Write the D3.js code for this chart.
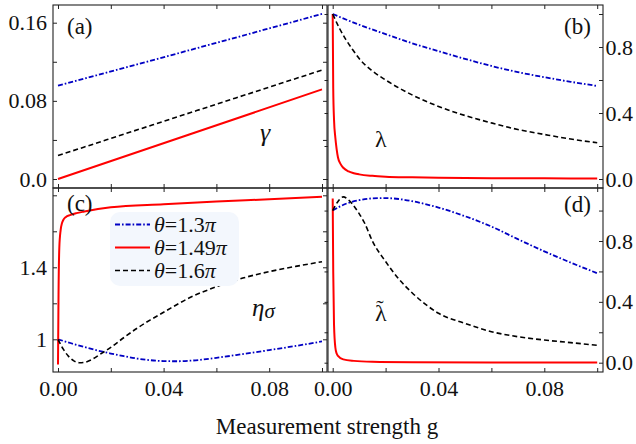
<!DOCTYPE html>
<html><head><meta charset="utf-8">
<script src="https://cdn.jsdelivr.net/npm/d3@7"></script>
<style>
body{margin:0;background:#fff;}
svg text{font-family:"Liberation Serif","DejaVu Serif",serif;}
</style></head>
<body><svg id="chart" width="636" height="444"></svg>
<script>
// ---------- data ----------
const seriesNames = ["θ=1.3π", "θ=1.49π", "θ=1.6π"];
// (a) gamma
const gGammaBlue = [0, 0.05, 0.1];
const gammaBlue = [0.0955, 0.132, 0.169];
const gGammaBlack = [0, 0.05, 0.1];
const gammaBlack = [0.024, 0.0678, 0.1115];
const gGammaRed = [0, 0.05, 0.1];
const gammaRed = [0.0, 0.0458, 0.0917];
// (b) lambda
const gLamBlue = [0, 0.01, 0.02, 0.03, 0.04, 0.05, 0.06, 0.07, 0.08, 0.09, 0.1];
const lamBlue = [1.0, 0.935, 0.878, 0.823, 0.775, 0.728, 0.685, 0.648, 0.617, 0.589, 0.564];
const gLamBlack = [0, 0.0025, 0.005, 0.0075, 0.01, 0.015, 0.02, 0.03, 0.04, 0.05, 0.06, 0.07, 0.08, 0.09, 0.1];
const lamBlack = [1.0, 0.915, 0.845, 0.785, 0.73, 0.655, 0.6, 0.51, 0.44, 0.385, 0.34, 0.3, 0.27, 0.242, 0.22];
const gLamRed = [0, 0.0002, 0.0005, 0.001, 0.0015, 0.002, 0.003, 0.004, 0.006, 0.008, 0.01, 0.015, 0.02, 0.03, 0.04, 0.06, 0.08, 0.1];
const lamRed = [1.0, 0.55, 0.36, 0.25, 0.18, 0.13, 0.09, 0.068, 0.046, 0.035, 0.028, 0.019, 0.014, 0.01, 0.007, 0.005, 0.004, 0.003];
// (c) eta_sigma
const gEtaBlue = [0, 0.005, 0.01, 0.015, 0.02, 0.025, 0.03, 0.035, 0.04, 0.045, 0.05, 0.06, 0.07, 0.08, 0.09, 0.1];
const etaBlue = [1.0, 0.978, 0.957, 0.938, 0.921, 0.906, 0.893, 0.884, 0.879, 0.878, 0.881, 0.897, 0.918, 0.94, 0.963, 0.988];
const gEtaBlack = [0, 0.002, 0.004, 0.006, 0.008, 0.01, 0.012, 0.016, 0.02, 0.025, 0.03, 0.035, 0.04, 0.05, 0.06, 0.07, 0.08, 0.09, 0.1];
const etaBlack = [1.0, 0.945, 0.905, 0.88, 0.87, 0.872, 0.882, 0.917, 0.955, 1.01, 1.062, 1.108, 1.15, 1.232, 1.292, 1.34, 1.376, 1.405, 1.431];
const gEtaRed = [0, 0.0002, 0.0005, 0.001, 0.0015, 0.002, 0.003, 0.0045, 0.007, 0.01, 0.02, 0.04, 0.06, 0.08, 0.1];
const etaRed = [0.86, 1.25, 1.51, 1.607, 1.645, 1.663, 1.68, 1.69, 1.701, 1.71, 1.733, 1.75, 1.765, 1.778, 1.792];
// (d) lambda tilde
const gLtBlue = [0, 0.005, 0.01, 0.015, 0.02, 0.025, 0.03, 0.035, 0.04, 0.05, 0.06, 0.07, 0.08, 0.09, 0.1];
const ltBlue = [1.0, 1.045, 1.068, 1.08, 1.082, 1.076, 1.062, 1.043, 1.02, 0.963, 0.895, 0.812, 0.732, 0.658, 0.588];
const gLtBlack = [0, 0.002, 0.004, 0.006, 0.008, 0.01, 0.012, 0.015, 0.02, 0.025, 0.03, 0.035, 0.04, 0.05, 0.06, 0.07, 0.08, 0.09, 0.1];
const ltBlack = [1.0, 1.06, 1.09, 1.07, 1.03, 0.98, 0.92, 0.8, 0.665, 0.55, 0.46, 0.385, 0.325, 0.259, 0.204, 0.171, 0.149, 0.132, 0.114];
const gLtRed = [0, 0.0002, 0.0005, 0.001, 0.0015, 0.002, 0.004, 0.008, 0.015, 0.03, 0.06, 0.1];
const ltRed = [1.08, 0.6, 0.25, 0.1, 0.06, 0.045, 0.022, 0.012, 0.006, 0.003, 0.0015, 0.001];

const xTicks = [0, 0.02, 0.04, 0.06, 0.08, 0.1];
const xTickLabels = {"0": "0.00", "0.04": "0.04", "0.08": "0.08"};
const yTicksA = [0, 0.04, 0.08, 0.12, 0.16];
const yLabelsA = {"0": "0.0", "0.08": "0.08", "0.16": "0.16"};
const yTicksB = [0, 0.2, 0.4, 0.6, 0.8, 1.0];
const yLabelsB = {"0": "0.0", "0.4": "0.4", "0.8": "0.8"};
const yTicksC = [1.0, 1.2, 1.4, 1.6, 1.8];
const yLabelsC = {"1": "1", "1.4": "1.4"};
const yTicksD = [0, 0.2, 0.4, 0.6, 0.8, 1.0];
const yLabelsD = {"0": "0.0", "0.4": "0.4", "0.8": "0.8"};

// ---------- styles ----------
const FONT = "Liberation Serif, DejaVu Serif, serif";
const BLUE = "#0000c4", RED = "#ff0000", BLACK = "#000";
const styles = [
  {color: BLUE, width: 1.8, dash: "5,2,1.6,2"},
  {color: RED, width: 2, dash: null},
  {color: BLACK, width: 1.6, dash: "5,3"}
];

const svg = d3.select("#chart").attr("font-family", FONT);
const FS = 22;

const xL = d3.scaleLinear().domain([0, 0.1]).range([58, 322]);
const xR = d3.scaleLinear().domain([0, 0.1]).range([332.7, 597.2]);

const panels = [
  {id:"a", x:xL, box:[53,5,327,188], y:d3.scaleLinear().domain([0,0.16]).range([179,22.7]),
   yt:yTicksA, yl:yLabelsA, side:"left", label:"(a)", lx:67, ly:34,
   data:[[gGammaBlue,gammaBlue],[gGammaRed,gammaRed],[gGammaBlack,gammaBlack]]},
  {id:"b", x:xR, box:[328,5,603,188], y:d3.scaleLinear().domain([0,0.8]).range([179,47]),
   yt:yTicksB, yl:yLabelsB, side:"right", label:"(b)", lx:564, ly:34,
   data:[[gLamBlue,lamBlue],[gLamRed,lamRed],[gLamBlack,lamBlack]]},
  {id:"c", x:xL, box:[53,188,327,372], y:d3.scaleLinear().domain([1,1.4]).range([339.3,267.3]),
   yt:yTicksC, yl:yLabelsC, side:"left", label:"(c)", lx:67, ly:211, xlab:true,
   data:[[gEtaBlue,etaBlue],[gEtaRed,etaRed],[gEtaBlack,etaBlack]]},
  {id:"d", x:xR, box:[328,188,603,372], y:d3.scaleLinear().domain([0,0.8]).range([362.7,241]),
   yt:yTicksD, yl:yLabelsD, side:"right", label:"(d)", lx:564, ly:212, xlab:true,
   data:[[gLtBlue,ltBlue],[gLtRed,ltRed],[gLtBlack,ltBlack]]}
];

const fmtFrom = (map) => (d) => { const k = String(+d.toFixed(4)); return map[k] !== undefined ? map[k] : ""; };

function styleAxis(g){
  g.attr("font-family", FONT);
  g.select(".domain").remove();
  g.selectAll(".tick line").attr("stroke","#222").attr("stroke-width",1);
  g.selectAll(".tick text").attr("font-size",FS).attr("fill","#111").attr("font-family", FONT);
}

const defs = svg.append("defs");
panels.forEach(p => {
  const [x0,y0,x1,y1] = p.box;
  defs.append("clipPath").attr("id","clip-"+p.id)
    .append("rect").attr("x",x0).attr("y",y0).attr("width",x1-x0).attr("height",y1-y0);

  const gLines = svg.append("g").attr("clip-path","url(#clip-"+p.id+")");
  p.data.forEach((ser, i) => {
    const pts = ser[0].map((g, k) => [g, ser[1][k]]);
    const line = d3.line().x(d => p.x(d[0])).y(d => p.y(d[1])).curve(d3.curveMonotoneX);
    const st = styles[i];
    gLines.append("path").datum(pts).attr("d", line)
      .attr("fill","none").attr("stroke",st.color).attr("stroke-width",st.width)
      .attr("stroke-dasharray",st.dash);
  });

  svg.append("rect").attr("x",x0).attr("y",y0).attr("width",x1-x0).attr("height",y1-y0)
    .attr("fill","none").attr("stroke","#222").attr("stroke-width",1.1);

  svg.append("g").attr("transform",`translate(0,${y1})`)
    .call(d3.axisBottom(p.x).tickValues(xTicks).tickSize(-4).tickPadding(8.5)
      .tickFormat(p.xlab ? fmtFrom(xTickLabels) : () => ""))
    .call(styleAxis);
  svg.append("g").attr("transform",`translate(0,${y0})`)
    .call(d3.axisTop(p.x).tickValues(xTicks).tickSize(-4).tickFormat(() => ""))
    .call(styleAxis);

  if (p.side === "left") {
    svg.append("g").attr("transform",`translate(${x0},0)`)
      .call(d3.axisLeft(p.y).tickValues(p.yt).tickSize(-4).tickPadding(6).tickFormat(fmtFrom(p.yl)))
      .call(styleAxis);
    svg.append("g").attr("transform",`translate(${x1},0)`)
      .call(d3.axisRight(p.y).tickValues(p.yt).tickSize(-4).tickFormat(() => ""))
      .call(styleAxis);
  } else {
    svg.append("g").attr("transform",`translate(${x1},0)`)
      .call(d3.axisRight(p.y).tickValues(p.yt).tickSize(-4).tickPadding(2.5).tickFormat(fmtFrom(p.yl)))
      .call(styleAxis);
    svg.append("g").attr("transform",`translate(${x0},0)`)
      .call(d3.axisLeft(p.y).tickValues(p.yt).tickSize(3.5).tickFormat(() => ""))
      .call(styleAxis);
  }

  svg.append("text").attr("x",p.lx).attr("y",p.ly).attr("font-size",23).attr("fill","#111")
    .attr("font-family", FONT).text(p.label);
});

// quantity labels
function txt(x, y, size, s, italic){
  return svg.append("text").attr("x",x).attr("y",y).attr("font-size",size)
    .attr("font-family", FONT).attr("font-style", italic ? "italic" : "normal")
    .attr("fill","#111").text(s);
}
txt(260, 141, 26, "γ", true);
txt(375, 147, 24, "λ", false);
const eta = txt(252, 316, 25, "", true);
eta.append("tspan").text("η");
eta.append("tspan").attr("font-size",21).attr("dy",2).text("σ");
const lt = txt(375, 321, 24, "", false);
lt.append("tspan").text("λ");
lt.append("tspan").attr("font-size",22).attr("dx",-10.5).attr("dy",-6).text("˜");

// legend
const lg = svg.append("g");
lg.append("rect").attr("x",110).attr("y",212).attr("width",129).attr("height",74).attr("rx",10)
  .attr("fill","#f3f7fd");
const rowY = [231.5, 254.5, 277.5];
seriesNames.forEach((name, i) => {
  const st = styles[i];
  lg.append("line").attr("x1",115).attr("x2",150).attr("y1",rowY[i]-7).attr("y2",rowY[i]-7)
    .attr("stroke",st.color).attr("stroke-width",st.width).attr("stroke-dasharray",st.dash);
  const parts = name.match(/^(θ)(=[0-9.]+)(π)$/);
  const t = lg.append("text").attr("x",154).attr("y",rowY[i]).attr("font-size",22)
    .attr("font-family", FONT).attr("fill","#111");
  t.append("tspan").attr("font-style","italic").text(parts[1]);
  t.append("tspan").text(parts[2]);
  t.append("tspan").attr("font-style","italic").text(parts[3]);
});

// x-axis title
txt(327, 434, 23, "Measurement strength g", false).attr("text-anchor","middle");
</script></body></html>
